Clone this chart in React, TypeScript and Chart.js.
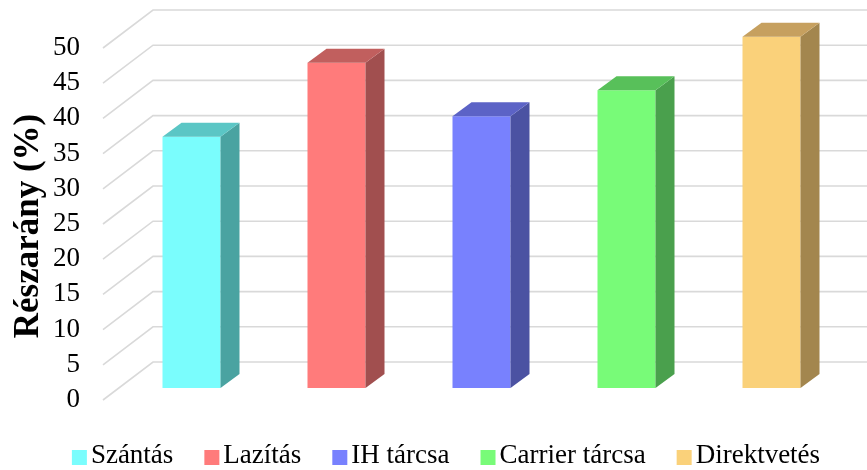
import React, { useEffect, useRef } from "react";
import { Chart, registerables } from "chart.js";

Chart.register(...registerables);

// ---- data ----
const categories = ["Szántás", "Lazítás", "IH tárcsa", "Carrier tárcsa", "Direktvetés"];
const values = [35.7, 46.2, 38.6, 42.3, 49.9];
const yMin = 0;
const yMax = 50;
const yStep = 5;
const yTitle = "Részarány (%)";

// ---- styles ----
const frontColors = ["#7afdfd", "#ff7b7b", "#7881fe", "#78fb78", "#fad17a"];
const topColors = ["#5bc6c5", "#c15f5e", "#5c63c6", "#58c05a", "#c6a05f"];
const sideColors = ["#4aa3a1", "#a14f4f", "#4b52a2", "#4aa04d", "#a3864e"];
const SERIF = "'Liberation Serif', 'Times New Roman', Times, serif";
const GRID_COLOR = "#d9d9d9";

// perspective geometry relative to the bar front plane
const FRONT_DX = 16, FRONT_DY = 12; // front edge of floor/gridlines
const BACK_DX = 34, BACK_DY = 26;   // back wall
const BAR_DX = 19, BAR_DY = 14;     // bar depth

const threeDPlugin = {
  id: "threeD",
  beforeDatasetsDraw(chart: any) {
    const { ctx, chartArea, scales } = chart;
    const y = scales.y;
    ctx.save();
    ctx.strokeStyle = GRID_COLOR;
    ctx.lineWidth = 1.6;
    const fx = chartArea.left - FRONT_DX;
    const bx = chartArea.left + BACK_DX;
    const rx = chartArea.right + BACK_DX;
    y.ticks.forEach((t: any) => {
      const py = y.getPixelForValue(t.value);
      ctx.beginPath();
      ctx.moveTo(fx, py + FRONT_DY);
      ctx.lineTo(bx, py - BACK_DY);
      ctx.lineTo(rx, py - BACK_DY);
      ctx.stroke();
    });
    ctx.restore();
  },
  afterDatasetsDraw(chart: any) {
    const { ctx } = chart;
    const meta = chart.getDatasetMeta(0);
    ctx.save();
    meta.data.forEach((bar: any, i: number) => {
      const { x, y, base, width } = bar.getProps(["x", "y", "base", "width"], true);
      const l = x - width / 2;
      const r = x + width / 2;
      ctx.fillStyle = sideColors[i];
      ctx.beginPath();
      ctx.moveTo(r, y);
      ctx.lineTo(r + BAR_DX, y - BAR_DY);
      ctx.lineTo(r + BAR_DX, base - BAR_DY);
      ctx.lineTo(r, base);
      ctx.closePath();
      ctx.fill();
      ctx.fillStyle = topColors[i];
      ctx.beginPath();
      ctx.moveTo(l, y);
      ctx.lineTo(l + BAR_DX, y - BAR_DY);
      ctx.lineTo(r + BAR_DX, y - BAR_DY);
      ctx.lineTo(r, y);
      ctx.closePath();
      ctx.fill();
    });
    ctx.restore();
  },
  afterDraw(chart: any) {
    const { ctx, chartArea } = chart;
    ctx.save();
    // y-axis title
    ctx.font = `bold 35px ${SERIF}`;
    ctx.fillStyle = "#000";
    ctx.textAlign = "center";
    ctx.textBaseline = "middle";
    ctx.translate(29, (chartArea.top + chartArea.bottom) / 2 + 14);
    ctx.rotate(-Math.PI / 2);
    ctx.fillText(yTitle, 0, 0);
    ctx.restore();

    // legend
    ctx.save();
    ctx.font = `27px ${SERIF}`;
    ctx.textBaseline = "alphabetic";
    ctx.textAlign = "left";
    const box = 15, gap = 4, spacing = 31;
    const widths = categories.map((c) => box + gap + ctx.measureText(c).width);
    const total = widths.reduce((a, b) => a + b, 0) + spacing * (categories.length - 1);
    let x = 446 - total / 2;
    const baseline = chartArea.bottom + 75;
    categories.forEach((c, i) => {
      ctx.fillStyle = frontColors[i];
      ctx.fillRect(x, baseline - 13, box, box);
      ctx.fillStyle = "#000";
      ctx.fillText(c, x + box + gap, baseline);
      x += widths[i] + spacing;
    });
    ctx.restore();
  },
};

export default function App() {
  const ref = useRef<HTMLCanvasElement | null>(null);
  useEffect(() => {
    if (!ref.current) return;
    const chart = new Chart(ref.current, {
      type: "bar",
      data: {
        labels: categories,
        datasets: [
          {
            data: values,
            backgroundColor: frontColors,
            borderWidth: 0,
            categoryPercentage: 1,
            barPercentage: 0.4,
          },
        ],
      },
      options: {
        responsive: false,
        animation: false,
        devicePixelRatio: 1,
        layout: { padding: { top: 36, right: 23, bottom: 82, left: 0 } },
        plugins: { legend: { display: false }, tooltip: { enabled: false } },
        scales: {
          x: { display: false },
          y: {
            min: yMin,
            max: yMax,
            grid: { display: false, drawTicks: false },
            border: { display: false },
            ticks: {
              stepSize: yStep,
              autoSkip: false,
              padding: 39,
              labelOffset: 12,
              color: "#000",
              font: { family: SERIF, size: 27 },
            },
            afterFit(scale: any) {
              scale.width = 119;
              scale.paddingTop = 0;
              scale.paddingBottom = 0;
            },
          },
        },
      },
      plugins: [threeDPlugin],
    });
    return () => chart.destroy();
  }, []);
  return (
    <div style={{ position: "absolute", left: 0, top: 0, width: 867, height: 470, background: "#fff" }}>
      <canvas ref={ref} width={867} height={470} />
    </div>
  );
}
